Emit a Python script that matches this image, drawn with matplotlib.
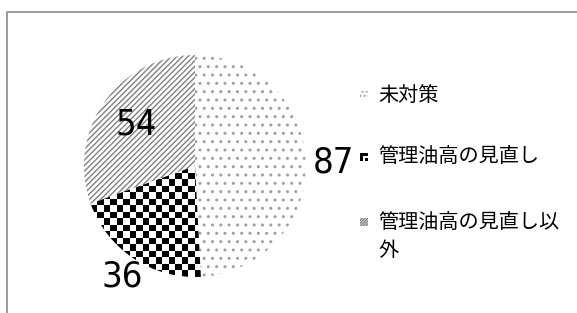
import matplotlib
matplotlib.use("Agg")
import matplotlib.pyplot as plt
from matplotlib.patches import Rectangle
from matplotlib.lines import Line2D
from matplotlib import font_manager
import numpy as np

plt.rcParams['font.family'] = ['Noto Sans CJK JP', 'DejaVu Sans']
plt.rcParams['hatch.linewidth'] = 1.0

# data
labels = ['未対策', '管理油高の見直し', '管理油高の見直し以\n外']
values = [87, 36, 54]
hatches = ['..', None, '//////']
hatch_colors = ['#a0a0a0', 'black', '#808080']
label_r = [1.25, 1.19, 0.65]

W, H = 577, 313
fig = plt.figure(figsize=(W / 100, H / 100), dpi=100)

# outer frame (only left/top edges visible)
fig.add_artist(Line2D([6.5 / W, 6.5 / W, 1.0], [0.0, 1 - 11.5 / H, 1 - 11.5 / H],
                      transform=fig.transFigure, color='#8a8a8a', linewidth=1.2))

# pie axes: centre (195, 166), radius 111 px
cx, cy, r = 195, 166, 111
ax = fig.add_axes([(cx - r * 1.1) / W, (H - cy - r * 1.1) / H, 2.2 * r / W, 2.2 * r / H])
wedges, _ = ax.pie(values, startangle=90, counterclock=False, radius=1,
                   wedgeprops=dict(linewidth=0, facecolor='white'))
ax.set_xlim(-1.1, 1.1)
ax.set_ylim(-1.1, 1.1)
ax.set_aspect('auto')
ax.axis('off')

for w, h, c in zip(wedges, hatches, hatch_colors):
    if h:
        w.set_hatch(h)
        w.set_edgecolor(c)
        w.set_linewidth(0)

# checkerboard texture for the second slice
n = 34
board = (np.indices((n, n)).sum(axis=0) % 2).astype(float)
im = ax.imshow(board, cmap='gray', extent=(-1, 1, -1, 1), interpolation='nearest',
               zorder=3, aspect='auto')
im.set_clip_path(wedges[1])

# value labels (condensed face if the system has one)
num_font = font_manager.FontProperties(family='DejaVu Sans', stretch='condensed', size=26)
for w, v, lr in zip(wedges, values, label_r):
    ang = np.deg2rad((w.theta1 + w.theta2) / 2)
    ax.text(lr * np.cos(ang), lr * np.sin(ang), str(v), ha='center', va='center',
            fontproperties=num_font, zorder=5)

# legend
leg_y = [95, 157, 222]
mx, ms = 360, 8
for i, (lab, y) in enumerate(zip(labels, leg_y)):
    first, *rest = lab.split('\n')
    fig.text(378 / W, 1 - y / H, first, fontsize=14.5, va='center', ha='left')
    for k, extra in enumerate(rest):
        fig.text(378 / W, 1 - (y + 29 * (k + 1)) / H, extra, fontsize=14.5, va='center', ha='left')
    if hatches[i]:
        fig.add_artist(Rectangle((mx / W, 1 - (y + ms / 2) / H), ms / W, ms / H,
                                 transform=fig.transFigure, facecolor='white',
                                 edgecolor=hatch_colors[i], linewidth=0, hatch=hatches[i] * 2))
    else:
        lax = fig.add_axes([mx / W, 1 - (y + ms / 2) / H, ms / W, ms / H])
        lax.imshow(np.array([[0, 0, 0], [0, 1, 1], [0, 1, 0]]), cmap='gray',
                   interpolation='nearest', aspect='auto')
        lax.axis('off')

fig.savefig('out.png', dpi=100)
